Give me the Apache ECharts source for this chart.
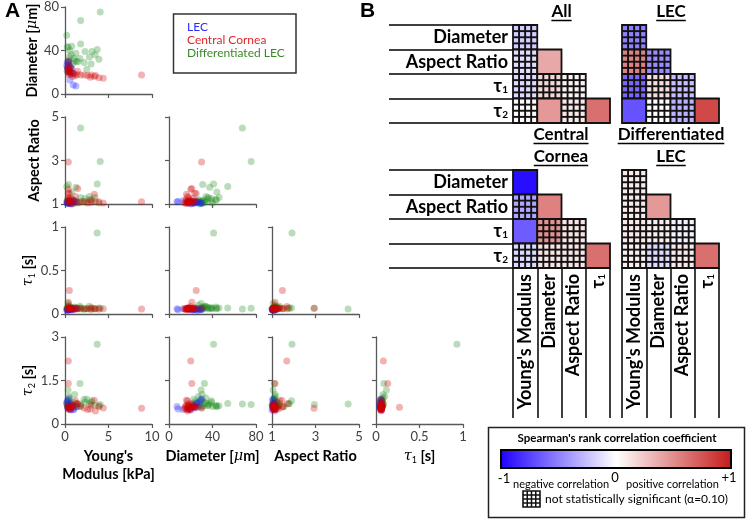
<!DOCTYPE html>
<html><head><meta charset="utf-8">
<script src="https://cdn.jsdelivr.net/npm/echarts/dist/echarts.min.js"></script>
<style>html,body{margin:0;padding:0;background:#fff}#c{width:747px;height:520px}</style>
</head><body><div id="c"></div>
<script>
// ---------------- DATA ----------------
// LEC
const lecE  = [0.57,0.95,1.26,0.3,0.4,0.5,0.6,0.25,0.7,0.35,0.8,0.45,0.2,0.65,1.0];
const lecD  = [12.9,8.3,7.4,24,27,22,25,29,20,21,23,30,26,18,19];
const lecAR = [1.15,1.12,1.1,1.05,1.08,1.02,1.1,1.04,1.0,1.12,1.06,1.03,1.09,1.05,1.1];
const lecT1 = [0.06,0.05,0.06,0.05,0.06,0.045,0.055,0.05,0.06,0.045,0.055,0.05,0.04,0.05,0.06];
const lecT2 = [0.5,0.52,0.6,0.55,0.6,0.65,0.7,0.8,0.48,0.58,0.62,0.85,0.72,0.55,0.5];
// Central Cornea
const ccE  = [8.8,0.38,0.5,0.38,0.38,1.46,0.38,3.37,4.4,3.9,3.5,3.0,2.6,2.2,1.8,1.4,1.0,0.8,0.6,0.5,0.4,0.45,0.55,0.7,0.3,2.9,1.2,0.9];
const ccD  = [17.5,30,25,20,21,21,23.6,16,14.4,15,17,17.5,17,17.5,17.5,18,18.5,19,20,22,18,21,19,23,24,15.5,17,16];
const ccAR = [1.1,2.93,1.48,1.68,1.14,1.71,1.5,1.45,1.05,1.1,1.12,1.08,1.05,1.12,1.1,1.07,1.15,1.2,1.1,1.25,1.3,1.05,1.12,1.1,1.15,1.2,1.35,1.02];
const ccT1 = [0.057,0.065,0.27,0.085,0.135,0.06,0.06,0.06,0.06,0.055,0.06,0.07,0.06,0.06,0.065,0.06,0.06,0.07,0.06,0.06,0.065,0.055,0.06,0.07,0.06,0.06,0.07,0.05];
const ccT2 = [0.54,0.54,0.58,2.17,1.4,0.7,0.6,0.82,0.55,0.6,0.45,0.65,0.5,0.55,0.6,0.7,0.62,0.6,0.55,0.58,0.52,0.6,0.5,0.57,0.62,0.52,0.8,0.65];
// Differentiated LEC
const dfE  = [3.7,1.8,4.05,1.72,0.35,1.1,0.2,0.27,0.77,1.8,1.26,2.3,3.1,3.45,0.5,2.2,1.5,3.0,2.5,0.6,0.9,0.4,1.3,3.9,0.3,0.7,2.8,0.45,1.0,0.25,0.55,0.35];
const dfD  = [41,67.5,75.5,32.6,29.5,30.5,54,43.5,44,46,37.4,39,39,36,34,29,30,27.6,22.7,25,28,31,29.6,32,24,36,34,27,33,21,40,43];
const dfAR = [1.92,4.5,2.95,1.1,1.05,1.15,1.8,1.2,1.55,1.3,1.77,1.25,1.15,1.3,1.1,1.1,1.05,1.2,1.1,1.12,1.0,1.9,1.1,1.05,1.08,1.25,1.35,1.15,1.2,1.05,1.05,1.2];
const dfT1 = [0.93,0.057,0.065,0.09,0.12,0.08,0.07,0.06,0.065,0.07,0.07,0.06,0.07,0.06,0.08,0.055,0.07,0.05,0.06,0.07,0.06,0.07,0.06,0.07,0.065,0.075,0.09,0.1,0.065,0.06,0.07,0.08];
const dfT2 = [2.75,0.69,0.67,1.4,1.17,1.02,0.71,0.62,0.6,0.63,0.7,0.75,0.8,0.65,0.9,0.85,0.6,0.75,0.85,0.72,0.66,0.8,0.58,0.62,0.78,0.64,0.7,0.95,0.74,0.68,0.6,0.64];

const groupNames = ['LEC', 'Central Cornea', 'Differentiated LEC'];

// Spearman correlations (lower triangle, order of cellPairs) and significance flags
const heatRows = ['Diameter', 'Aspect Ratio', 'τ1', 'τ2'];
const heatCols = ["Young's Modulus", 'Diameter', 'Aspect Ratio', 'τ1'];
const cellPairs = [[0,0],[0,1],[1,1],[0,2],[1,2],[2,2],[0,3],[1,3],[2,3],[3,3]];
const rhoAll = [-0.2, -0.13, 0.38, -0.15, 0.18, 0.06, 0.02, 0.45, 0.1, 0.63];
const sigAll = [0, 0, 1, 0, 0, 0, 0, 1, 0, 1];
const rhoLEC = [-0.5, 0.55, -0.45, -0.6, 0.15, -0.25, -0.68, 0.0, -0.3, 0.8];
const sigLEC = [0, 0, 0, 0, 0, 0, 1, 0, 0, 1];
const rhoCC  = [-0.95, -0.35, 0.55, -0.64, 0.48, 0.12, -0.15, 0.12, 0.12, 0.63];
const sigCC  = [1, 0, 1, 1, 0, 0, 0, 0, 0, 1];
const rhoDF  = [0.1, 0.1, 0.45, 0.1, 0.08, -0.05, 0.08, -0.15, 0.1, 0.63];
const sigDF  = [0, 0, 1, 0, 0, 0, 0, 0, 0, 1];

// ---------------- STYLE / LAYOUT ----------------
const FONT = 'Lato, "Open Sans", sans-serif';
const CMAP = ['#1e00ff', '#ffffff', '#c41a1a'];
const GCOL = ['#1a1aff', '#d00000', '#1f8a1f'];
const COLS = [65, 169, 272, 376], ROWS = [7, 117, 227, 337], PW = 87, PH = 87;

const groups = [
  {E: lecE, D: lecD, AR: lecAR, T1: lecT1, T2: lecT2},
  {E: ccE, D: ccD, AR: ccAR, T1: ccT1, T2: ccT2},
  {E: dfE, D: dfD, AR: dfAR, T1: dfT1, T2: dfT2}
];
const AX = {
  E:  {min: 0, max: 10, interval: 5, name: "{b|Young's}\n{b|Modulus [kPa]}"},
  D:  {min: 0, max: 80, interval: 40, name: '{b|Diameter [}{i|μ}{b|m]}'},
  AR: {min: 1, max: 5, interval: 2, name: '{b|Aspect Ratio}'},
  T1: {min: 0, max: 1, interval: 0.5, name: '{t|τ}{s|1}{b| [s]}'},
  T2: {min: 0, max: 3, interval: 1.5, name: '{t|τ}{s|2}{b| [s]}'}
};
const nameRich = {
  b: {fontWeight: 'bold', fontSize: 14.5, fontFamily: FONT, color: '#000', lineHeight: 18, verticalAlign: 'middle'},
  i: {fontStyle: 'italic', fontSize: 14.5, fontFamily: '"DejaVu Serif", serif', color: '#000', lineHeight: 18, verticalAlign: 'middle'},
  t: {fontStyle: 'italic', fontSize: 14.5, fontFamily: '"DejaVu Serif", serif', color: '#000', lineHeight: 18, verticalAlign: 'middle'},
  s: {fontSize: 9, fontFamily: FONT, color: '#000', lineHeight: 9, verticalAlign: 'bottom'}
};
const panels = [['E','D',0,0],['E','AR',1,0],['D','AR',1,1],['E','T1',2,0],['D','T1',2,1],['AR','T1',2,2],
                ['E','T2',3,0],['D','T2',3,1],['AR','T2',3,2],['T1','T2',3,3]];
const yGap = {D: 22, AR: 22, T1: 27, T2: 27};

const grid = [], xAxis = [], yAxis = [], series = [];
const axisLine = {lineStyle: {color: '#595959', width: 1.3}};
const axisTick = {length: 4, lineStyle: {color: '#595959', width: 1.2}};
panels.forEach((p, i) => {
  const [xv, yv, r, c] = p;
  grid.push({left: COLS[c], top: ROWS[r], width: PW, height: PH});
  xAxis.push({
    gridIndex: i, type: 'value', min: AX[xv].min, max: AX[xv].max, interval: AX[xv].interval,
    axisLine, axisTick, splitLine: {show: false},
    axisLabel: {show: r === 3, color: '#404040', fontSize: 13, fontFamily: FONT, margin: 6},
    name: r === 3 ? AX[xv].name : '', nameLocation: 'middle', nameGap: 23,
    nameTextStyle: {rich: nameRich}
  });
  yAxis.push({
    gridIndex: i, type: 'value', min: AX[yv].min, max: AX[yv].max, interval: AX[yv].interval,
    axisLine, axisTick, splitLine: {show: false},
    axisLabel: {show: c === 0, color: '#404040', fontSize: 13, fontFamily: FONT, margin: 6},
    name: c === 0 ? AX[yv].name : '', nameLocation: 'middle', nameRotate: 90, nameGap: yGap[yv],
    nameTextStyle: {rich: nameRich}
  });
  [2, 0, 1].forEach(g => {
    const G = groups[g];
    series.push({
      type: 'scatter', name: groupNames[g], xAxisIndex: i, yAxisIndex: i,
      data: G[xv].map((v, k) => [v, G[yv][k]]),
      symbolSize: 7, itemStyle: {color: GCOL[g], opacity: 0.3}, silent: true
    });
  });
});

// ---------------- HEATMAPS ----------------
const heatDefs = [
  {rho: rhoAll, sig: sigAll, left: 513, top: 25, rowLab: true, colLab: false},
  {rho: rhoLEC, sig: sigLEC, left: 622, top: 25, rowLab: false, colLab: false},
  {rho: rhoCC,  sig: sigCC,  left: 513, top: 170, rowLab: true, colLab: true},
  {rho: rhoDF,  sig: sigDF,  left: 622, top: 170, rowLab: false, colLab: true}
];
const HFS = 18;
const heatRich = {
  t: {fontWeight: 'bold', fontSize: HFS, fontFamily: FONT, color: '#000'},
  s: {fontWeight: 'bold', fontSize: 10, fontFamily: FONT, color: '#000', verticalAlign: 'bottom', padding: [6, 0, 0, 0]}
};
const heatFmt = v => v === 'τ1' ? '{t|τ}{s|1}' : v === 'τ2' ? '{t|τ}{s|2}' : v;
const heatSeriesIdx = [];
function hatchRender(params, api) {
  const c = api.coord([api.value(0), api.value(1)]);
  const s = api.size([1, 1]);
  const x0 = c[0] - s[0] / 2, y0 = c[1] - s[1] / 2;
  const ch = [{type: 'rect', shape: {x: x0, y: y0, width: s[0], height: s[1]},
               style: {fill: api.visual('color'), stroke: '#111', lineWidth: 1.8}}];
  if (!api.value(3)) {
    for (let k = 1; k < 4; k++) {
      ch.push({type: 'line', shape: {x1: x0 + k * s[0] / 4, y1: y0, x2: x0 + k * s[0] / 4, y2: y0 + s[1]}, style: {stroke: '#111', lineWidth: 1.9}});
      ch.push({type: 'line', shape: {x1: x0, y1: y0 + k * s[1] / 4, x2: x0 + s[0], y2: y0 + k * s[1] / 4}, style: {stroke: '#111', lineWidth: 1.9}});
    }
  }
  return {type: 'group', children: ch};
}
heatDefs.forEach((h, k) => {
  const gi = grid.length;
  grid.push({left: h.left, top: h.top, width: 97, height: 98});
  xAxis.push({
    gridIndex: gi, type: 'category', data: heatCols, position: 'bottom',
    axisLine: {show: false},
    axisTick: {show: h.colLab, length: 150, interval: 0, lineStyle: {color: '#000', width: 1.5}},
    axisLabel: {show: h.colLab, rotate: 90, interval: 0, margin: 6, fontSize: HFS, fontWeight: 'bold',
                fontFamily: FONT, color: '#000', formatter: heatFmt, rich: heatRich},
    splitLine: {show: false}
  });
  yAxis.push({
    gridIndex: gi, type: 'category', data: heatRows, inverse: true,
    axisLine: {show: false},
    axisTick: {show: h.rowLab, length: 124, interval: 0, lineStyle: {color: '#000', width: 1.5}},
    axisLabel: {show: h.rowLab, interval: 0, margin: 5, fontSize: HFS, fontWeight: 'bold',
                fontFamily: FONT, color: '#000', formatter: heatFmt, rich: heatRich},
    splitLine: {show: false}
  });
  heatSeriesIdx.push(series.length);
  series.push({
    type: 'custom', coordinateSystem: 'cartesian2d', xAxisIndex: gi, yAxisIndex: gi,
    encode: {x: 0, y: 1}, renderItem: hatchRender, silent: true,
    data: cellPairs.map((p, j) => [p[0], p[1], h.rho[j], h.sig[j]])
  });
});

// ---------------- GRAPHICS ----------------
const mctx = document.createElement('canvas').getContext('2d');
function tw(text, font) { mctx.font = font; return mctx.measureText(text).width; }
const TFONT = 'bold 17px ' + FONT;
const graphic = [];
function title(text, cx, cy) {
  graphic.push({type: 'text', style: {text, x: cx, y: cy, align: 'center', verticalAlign: 'middle',
    font: TFONT, fill: '#000'}});
  const w = tw(text, TFONT);
  graphic.push({type: 'line', shape: {x1: cx - w / 2, y1: cy + 8.5, x2: cx + w / 2, y2: cy + 8.5},
    style: {stroke: '#000', lineWidth: 1.5}});
}
title('All', 561.5, 12);
title('LEC', 671, 12);
title('Central', 561, 135);
title('Cornea', 561, 157);
title('Differentiated', 671, 135);
title('LEC', 671, 157);
graphic.push({type: 'text', style: {text: 'A', x: 5, y: 11, verticalAlign: 'middle', font: 'bold 21px "Liberation Sans", Arial, sans-serif', fill: '#000'}});
graphic.push({type: 'text', style: {text: 'B', x: 360, y: 11, verticalAlign: 'middle', font: 'bold 21px "Liberation Sans", Arial, sans-serif', fill: '#000'}});
// legend box for panel A
graphic.push({type: 'rect', shape: {x: 173.5, y: 14, width: 122.5, height: 59}, style: {fill: 'none', stroke: '#333', lineWidth: 1.5}});
// colorbar legend
graphic.push({type: 'rect', shape: {x: 488.5, y: 427.5, width: 256, height: 90}, style: {fill: '#fff', stroke: '#222', lineWidth: 1.5}});
graphic.push({type: 'text', style: {text: "Spearman's rank correlation coefficient", x: 617, y: 438, align: 'center', verticalAlign: 'middle', font: 'bold 11.5px ' + FONT, fill: '#000'}});
graphic.push({type: 'rect', shape: {x: 501, y: 450, width: 230, height: 18},
  style: {fill: new echarts.graphic.LinearGradient(0, 0, 1, 0, [{offset: 0, color: CMAP[0]}, {offset: 0.5, color: CMAP[1]}, {offset: 1, color: CMAP[2]}]),
          stroke: '#000', lineWidth: 2}});
graphic.push({type: 'text', style: {text: '-1', x: 504, y: 479, align: 'center', verticalAlign: 'middle', font: '13px ' + FONT, fill: '#000'}});
graphic.push({type: 'text', style: {text: 'negative correlation', x: 513, y: 484, verticalAlign: 'middle', font: '11px ' + FONT, fill: '#000'}});
graphic.push({type: 'text', style: {text: '0', x: 615, y: 478, align: 'center', verticalAlign: 'middle', font: '13px ' + FONT, fill: '#000'}});
graphic.push({type: 'text', style: {text: 'positive correlation', x: 626, y: 484, verticalAlign: 'middle', font: '11px ' + FONT, fill: '#000'}});
graphic.push({type: 'text', style: {text: '+1', x: 729, y: 478, align: 'center', verticalAlign: 'middle', font: '13px ' + FONT, fill: '#000'}});
// hatch icon
const hx = 523, hy = 491, hw = 17, hh = 16;
graphic.push({type: 'rect', shape: {x: hx, y: hy, width: hw, height: hh}, style: {fill: '#fff', stroke: '#111', lineWidth: 1.6}});
for (let k = 1; k < 4; k++) {
  graphic.push({type: 'line', shape: {x1: hx + k * hw / 4, y1: hy, x2: hx + k * hw / 4, y2: hy + hh}, style: {stroke: '#111', lineWidth: 1.5}});
  graphic.push({type: 'line', shape: {x1: hx, y1: hy + k * hh / 4, x2: hx + hw, y2: hy + k * hh / 4}, style: {stroke: '#111', lineWidth: 1.5}});
}
graphic.push({type: 'text', style: {text: 'not statistically significant (α=0.10)', x: 545, y: 499, verticalAlign: 'middle', font: '12px ' + FONT, fill: '#000'}});

// ---------------- CHART ----------------
const chart = echarts.init(document.getElementById('c'), null, {renderer: 'canvas'});
chart.setOption({
  animation: false,
  backgroundColor: '#fff',
  textStyle: {fontFamily: FONT},
  legend: {
    data: [
      {name: 'LEC', textStyle: {color: '#2b2bff'}},
      {name: 'Central Cornea', textStyle: {color: '#e0282a'}},
      {name: 'Differentiated LEC', textStyle: {color: '#3a8a2a'}}
    ],
    orient: 'vertical', left: 182, top: 21, padding: 0, itemWidth: 0, itemHeight: 15, itemGap: 1,
    selectedMode: false, textStyle: {fontSize: 12, fontFamily: FONT}
  },
  visualMap: {type: 'continuous', show: false, min: -1, max: 1, dimension: 2,
    seriesIndex: heatSeriesIdx, inRange: {color: CMAP}},
  grid, xAxis, yAxis, series, graphic
});
</script>
</body></html>
